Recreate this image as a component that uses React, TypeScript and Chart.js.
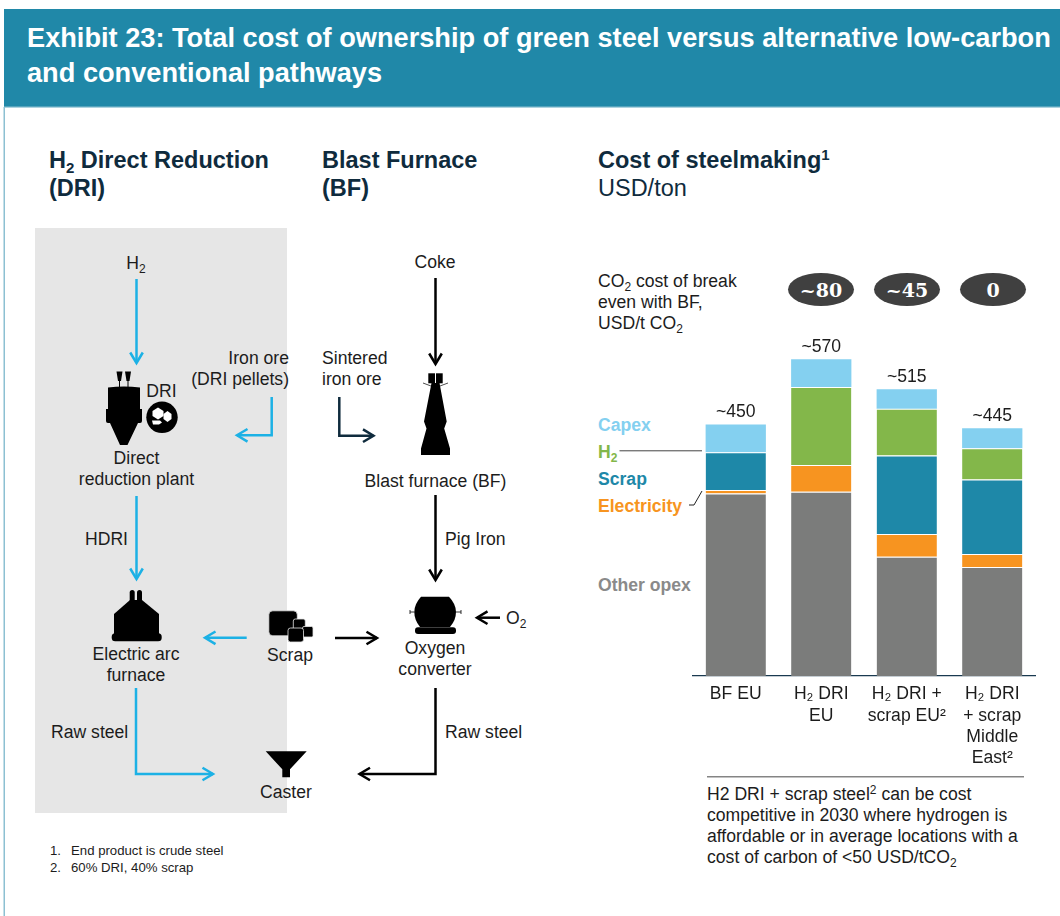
import React, { useEffect, useRef } from "react";
import { Chart, registerables } from "chart.js";

Chart.register(...registerables);

const categories = [["BF EU"], ["H₂ DRI", "EU"], ["H₂ DRI +", "scrap EU²"], ["H₂ DRI", "+ scrap", "Middle", "East²"]];
const otherOpex = [328, 331, 214, 196];
const electricity = [6, 48, 41, 23];
const scrap = [68, 0, 141, 134];
const hydrogen = [0, 140, 84, 56];
const capex = [50, 50, 35, 36];
const totalLabels = ["~450", "~570", "~515", "~445"];
const breakEven = ["~80", "~45", "0"];

const FONT = "'Liberation Sans', Arial, sans-serif";
const BLUE = "#1cb1e5";
const NAVY = "#0f2b3d";
const TEXT = "#1c1c1c";

const totalsPlugin = {
  id: "totals",
  afterDatasetsDraw(chart: any) {
    const { ctx } = chart;
    const y = chart.scales.y;
    const x = chart.scales.x;
    ctx.save();
    ctx.font = `17.6px ${FONT}`;
    ctx.fillStyle = TEXT;
    ctx.textAlign = "center";
    ctx.textBaseline = "alphabetic";
    totalLabels.forEach((label, i) => {
      const sum = otherOpex[i] + electricity[i] + scrap[i] + hydrogen[i] + capex[i];
      ctx.fillText(label, x.getPixelForValue(i), y.getPixelForValue(sum) - 7);
    });
    ctx.restore();
  },
};

function Arrow({ pts, color = "#000", w = 2.5 }: { pts: number[][]; color?: string; w?: number }) {
  const n = pts.length;
  const [ax, ay] = pts[n - 2];
  const [bx, by] = pts[n - 1];
  const len = Math.hypot(bx - ax, by - ay);
  const ux = (bx - ax) / len;
  const uy = (by - ay) / len;
  const back = 10.5;
  const side = 6.3;
  const head = `${bx - ux * back - uy * side},${by - uy * back + ux * side} ${bx},${by} ${bx - ux * back + uy * side},${by - uy * back - ux * side}`;
  return (
    <g fill="none" stroke={color} strokeWidth={w} strokeLinejoin="miter">
      <polyline points={pts.map((p) => p.join(",")).join(" ")} />
      <polyline points={head} />
    </g>
  );
}

function T({ x, y, a = "start", s = 17.6, b = false, c = TEXT, children }: any) {
  return (
    <text x={x} y={y} textAnchor={a} fontSize={s} fontWeight={b ? 700 : 400} fill={c} fontFamily={FONT}>
      {children}
    </text>
  );
}

function Sub({ v = "2", s = 12, d = 4, after }: any) {
  return (
    <>
      <tspan dy={d} fontSize={s}>{v}</tspan>
      <tspan dy={-d}>{after ?? "\u200b"}</tspan>
    </>
  );
}

function Sup({ v, s = 12, d = 6, after }: any) {
  return (
    <>
      <tspan dy={-d} fontSize={s}>{v}</tspan>
      {after ? <tspan dy={d}>{after}</tspan> : null}
    </>
  );
}

function Diagram() {
  return (
    <svg width={1060} height={916} style={{ position: "absolute", left: 0, top: 0 }}>
      <rect x={3.5} y={107} width={1.5} height={809} fill="#8cc0d2" />
      <rect x={4} y={9} width={1056} height={98} fill="#2088a8" />
      <rect x={4} y={106.5} width={1056} height={1.2} fill="#8cc0d2" />
      <T x={27} y={47} s={27.2} b c="#fff">Exhibit 23: Total cost of ownership of green steel versus alternative low-carbon</T>
      <T x={27} y={82} s={27.2} b c="#fff">and conventional pathways</T>

      <rect x={35} y={228} width={252} height={585} fill="#e6e6e6" />

      <T x={49} y={168} s={23.5} b c={NAVY}>H<Sub s={15} d={5} after=" Direct Reduction" /></T>
      <T x={49} y={196} s={23.5} b c={NAVY}>(DRI)</T>
      <T x={322} y={168} s={23.5} b c={NAVY}>Blast Furnace</T>
      <T x={322} y={196} s={23.5} b c={NAVY}>(BF)</T>
      <T x={598} y={168} s={23.5} b c={NAVY}>Cost of steelmaking<Sup v="1" s={15} d={8} /></T>
      <T x={598} y={196} s={23.5} c={NAVY}>USD/ton</T>

      {/* DRI column */}
      <T x={136} y={269} a="middle">H<Sub /></T>
      <Arrow pts={[[136.5, 279], [136.5, 363]]} color={BLUE} />
      <g fill="#000">
        <path d="M116.5 371.5h6l-1.5 9.5h-3zM125 371.5h6l-1.5 9.5h-3z" />
        <rect x={119} y={379} width={1} height={8} />
        <rect x={127.5} y={379} width={1} height={8} />
        <path d="M108 387.5q16-2 32 0v21.5h2v12q0 2-2 2h-2l-10.5 22h-7.5l-10-22h-2q-2 0-2-2v-12h2z" />
        <circle cx={162} cy={417.3} r={15.7} />
        <path d="M152.5 411l5.5-3.5 5.5 3.5v5l-5.500 3.500-5.500-3.500z" fill="#fff" />
        <path d="M163.5 414l4-3 4 3v5l-4 3-4-3z" fill="#fff" />
        <path d="M152 420.5h8l2 2-3 2h-6z" fill="#fff" />
      </g>
      <T x={161.5} y={397} a="middle">DRI</T>
      <T x={289} y={364} a="end">Iron ore</T>
      <T x={289} y={385} a="end">(DRI pellets)</T>
      <Arrow pts={[[271.7, 397], [271.7, 435.3], [237, 435.3]]} color={BLUE} />
      <T x={136.5} y={464} a="middle">Direct</T>
      <T x={136.5} y={485} a="middle">reduction plant</T>
      <Arrow pts={[[136.5, 496], [136.5, 579]]} color={BLUE} />
      <T x={85} y={545}>HDRI</T>
      <g fill="#000">
        <rect x={129.7} y={590} width={5} height={14} rx={2.5} />
        <rect x={137} y={590} width={5} height={14} rx={2.5} />
        <path d="M114 614l16-14h12l17 14v20h-45z" />
        <rect x={111.7} y={633.3} width={50} height={8} rx={3.5} />
      </g>
      <T x={136} y={660} a="middle">Electric arc</T>
      <T x={136} y={681} a="middle">furnace</T>
      <Arrow pts={[[136, 688], [136, 774], [213, 774]]} color={BLUE} />
      <T x={51} y={738}>Raw steel</T>

      {/* Scrap */}
      <Arrow pts={[[246.7, 637.8], [205, 637.8]]} color={BLUE} />
      <g fill="#000" stroke="#e6e6e6" strokeWidth={0.8}>
        <rect x={268.8} y={610.8} width={28.5} height={25} rx={4} />
        <rect x={293.3} y={619} width={12} height={11} rx={2} />
        <rect x={302.5} y={626.5} width={10.5} height={10.5} rx={1.5} />
        <rect x={288} y={628} width={15.5} height={14} rx={2.5} />
      </g>
      <T x={290} y={661} a="middle">Scrap</T>
      <Arrow pts={[[335, 638], [377, 638]]} />

      {/* Caster */}
      <path d="M265.7 751.3h41l-16.7 18v8h-7.7v-8z" fill="#000" />
      <T x={286} y={798} a="middle">Caster</T>

      {/* BF column */}
      <T x={435} y={268} a="middle">Coke</T>
      <Arrow pts={[[435.5, 278], [435.5, 364]]} />
      <g fill="#000">
        <rect x={428.3} y={373.3} width={6.7} height={10} />
        <rect x={436} y={373.3} width={6.7} height={10} />
        <path d="M431.5 383h8l7.2 38.5-2.5 7 5.8 20v6.5h-29v-6.5l5.5-20-2.5-7z" />
      </g>
      <path d="M423 383l8 3M448 383l-8 3" stroke="#000" strokeWidth={0.7} fill="none" />
      <T x={322} y={364}>Sintered</T>
      <T x={322} y={385}>iron ore</T>
      <Arrow pts={[[339.3, 397], [339.3, 435.7], [373.5, 435.7]]} color={NAVY} />
      <T x={435.5} y={487} a="middle">Blast furnace (BF)</T>
      <Arrow pts={[[435.5, 495], [435.5, 580]]} />
      <T x={445} y={545}>Pig Iron</T>
      <path d="M421 596.7h28Q456 604 456 612Q456 620 450 627h-30Q414.3 620 414.3 612Q414.3 604 421 596.7z" fill="#000" />
      <rect x={415} y={627.3} width={41} height={6.7} rx={3} fill="#000" />
      <path d="M410 612h4.5M456 612h5M410 610v4M461 610v4" stroke="#000" strokeWidth={0.8} fill="none" />
      <Arrow pts={[[500, 617.7], [477, 617.7]]} />
      <T x={506} y={624}>O<Sub /></T>
      <T x={435} y={654} a="middle">Oxygen</T>
      <T x={435} y={675} a="middle">converter</T>
      <Arrow pts={[[435.5, 688], [435.5, 774], [359.5, 774]]} />
      <T x={445} y={738}>Raw steel</T>

      {/* footnotes */}
      <T x={50} y={855} s={13.2}>1.</T>
      <T x={71} y={855} s={13.2}>End product is crude steel</T>
      <T x={50} y={872} s={13.2}>2.</T>
      <T x={71} y={872} s={13.2}>60% DRI, 40% scrap</T>

      {/* right panel */}
      <T x={598} y={287}>CO<Sub after=" cost of break" /></T>
      <T x={598} y={308}>even with BF,</T>
      <T x={598} y={329}>USD/t CO<Sub /></T>
      {breakEven.map((v, i) => (
        <g key={v}>
          <ellipse cx={821 + i * 86} cy={289.5} rx={33} ry={16.5} fill="#404040" />
          <text x={821 + i * 86} y={296.5} textAnchor="middle" fontSize={19} fontWeight={700} fill="#fff" fontFamily="'DejaVu Serif', serif">{v}</text>
        </g>
      ))}
      <T x={598} y={431} b c="#84d0f0">Capex</T>
      <T x={598} y={458} b c="#83b74a">H<Sub /></T>
      <T x={598} y={485} b c="#1e88a8">Scrap</T>
      <T x={598} y={512} b c="#f79420">Electricity</T>
      <T x={598} y={591} b c="#8a8a8a">Other opex</T>
      <path d="M619.5 450.8H702" stroke="#444" strokeWidth={1} fill="none" />
      <path d="M689 505h5l8-14" stroke="#222" strokeWidth={1} fill="none" />
      <rect x={707} y={776.2} width={317} height={1.2} fill="#666" />
      <T x={707} y={800}>H2 DRI + scrap steel<Sup v="2" after=" can be cost" /></T>
      <T x={707} y={821}>competitive in 2030 where hydrogen is</T>
      <T x={707} y={842}>affordable or in average locations with a</T>
      <T x={707} y={863}>cost of carbon of &lt;50 USD/tCO<Sub /></T>
    </svg>
  );
}

export default function App() {
  const ref = useRef<HTMLCanvasElement>(null);
  useEffect(() => {
    const seg = (label: string, data: number[], color: string, top = 1) => ({
      label,
      data,
      backgroundColor: color,
      borderColor: "#ffffff",
      borderWidth: { top, bottom: 0, left: 0, right: 0 },
      borderSkipped: false,
      stack: "s",
      categoryPercentage: 1,
      barPercentage: 0.705,
    });
    const chart = new Chart(ref.current!, {
      type: "bar",
      data: {
        labels: categories,
        datasets: [
          seg("Other opex", otherOpex, "#7b7c7b"),
          seg("Electricity", electricity, "#f79420"),
          seg("Scrap", scrap, "#1e88a8"),
          seg("H2", hydrogen, "#83b74a"),
          seg("Capex", capex, "#84d0f0", 0),
        ],
      } as any,
      options: {
        responsive: false,
        animation: false,
        layout: { padding: { left: 103, right: 25, top: 12, bottom: 0 } },
        plugins: { legend: { display: false }, tooltip: { enabled: false } },
        scales: {
          x: {
            stacked: true,
            grid: { display: false },
            border: { color: "#1a3a50", width: 1.2 },
            afterFit: (s: any) => { s.height = 104; },
            ticks: {
              color: TEXT,
              padding: 0,
              maxRotation: 0,
              autoSkip: false,
              font: { family: "Liberation Sans", size: 17.6, lineHeight: 1.2 },
            },
          },
          y: { stacked: true, display: false, min: 0, max: 600 },
        },
      } as any,
      plugins: [totalsPlugin],
    });
    return () => chart.destroy();
  }, []);
  return (
    <div style={{ position: "absolute", left: 0, top: 0, width: 1060, height: 916, overflow: "hidden", background: "#fff" }}>
      <Diagram />
      <canvas ref={ref} width={470} height={450} style={{ position: "absolute", left: 590, top: 330, display: "block" }} />
    </div>
  );
}
